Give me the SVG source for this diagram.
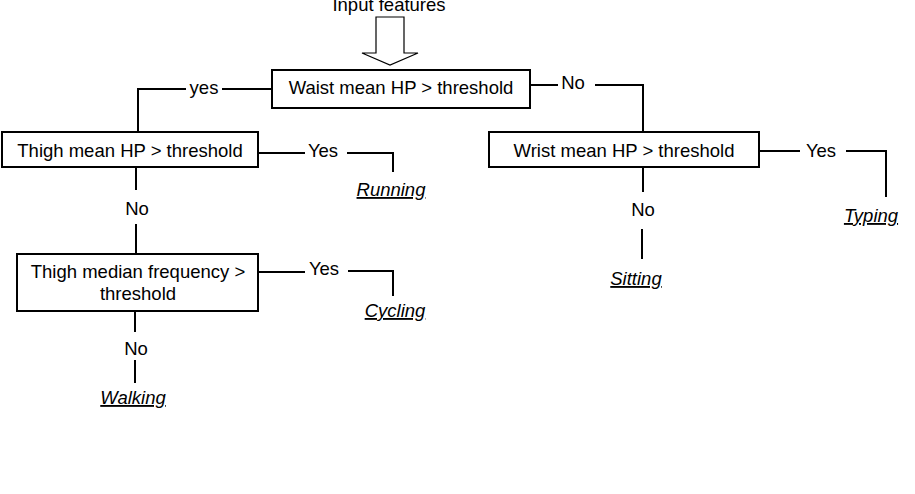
<svg xmlns="http://www.w3.org/2000/svg" width="915" height="494" viewBox="0 0 915 494">
<style>
text{font-family:"Liberation Sans",Arial,sans-serif;font-size:18.5px;fill:#000;text-anchor:middle}
.box{fill:#fff;stroke:#000;stroke-width:2}
.ln{fill:none;stroke:#000;stroke-width:2}
.leaf{font-style:italic;text-decoration:underline}
</style>
<rect width="915" height="494" fill="#fff"/>
<g id="input">
<text x="389" y="11" font-size="17.5">Input features</text>
<path d="M376,17 L404,17 L404,53 L418,53 L390,65 L362,53 L376,53 Z" fill="#fff" stroke="#000" stroke-width="1.2"/>
</g>
<g id="connectors">
<path class="ln" d="M272,89 L222,89 M186,89 L138,89 L138,132"/>
<path class="ln" d="M258,153 L305,153 M347,153 L393,153 L393,172"/>
<path class="ln" d="M136,167 L136,190 M136,224 L136,254"/>
<path class="ln" d="M258,272 L305,272 M348,271 L393,271 L393,296"/>
<path class="ln" d="M135,311 L135,332 M135,360 L135,383"/>
<path class="ln" d="M530,85 L558,85 M595,85 L643,85 L643,132"/>
<path class="ln" d="M759,151 L800,151 M846,151 L886,151 L886,197"/>
<path class="ln" d="M643,167 L643,192 M642,229 L642,259"/>
<text x="204" y="94">yes</text>
<text x="573" y="89">No</text>
<text x="323" y="157">Yes</text>
<text x="137" y="215">No</text>
<text x="324" y="275">Yes</text>
<text x="136" y="355">No</text>
<text x="821" y="157">Yes</text>
<text x="643" y="216">No</text>
</g>
<g id="waist">
<rect class="box" x="272" y="70" width="258" height="38"/>
<text x="401" y="94">Waist mean HP &gt; threshold</text>
</g>
<g id="thigh">
<rect class="box" x="2" y="132" width="256" height="35"/>
<text x="130" y="157">Thigh mean HP &gt; threshold</text>
</g>
<g id="thighmedian">
<rect class="box" x="17" y="254" width="241" height="57"/>
<text x="138" y="278">Thigh median frequency &gt;</text>
<text x="138" y="300">threshold</text>
</g>
<g id="wrist">
<rect class="box" x="489" y="132" width="270" height="35"/>
<text x="624" y="157">Wrist mean HP &gt; threshold</text>
</g>
<g id="running"><text class="leaf" x="391" y="196">Running</text></g>
<g id="cycling"><text class="leaf" x="395" y="317">Cycling</text></g>
<g id="walking"><text class="leaf" x="133" y="404">Walking</text></g>
<g id="sitting"><text class="leaf" x="636" y="285">Sitting</text></g>
<g id="typing"><text class="leaf" x="871" y="222">Typing</text></g>
</svg>
